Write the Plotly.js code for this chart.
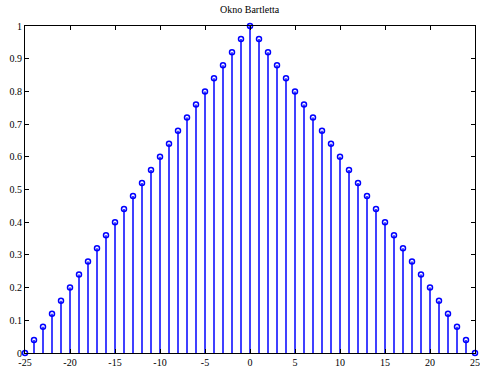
<!DOCTYPE html>
<html>
<head>
<meta charset="utf-8">
<script src="https://cdn.plot.ly/plotly-3.0.1.min.js"></script>
<style>
  html, body { margin: 0; padding: 0; background: #fff; }
  #chart { width: 480px; height: 366px; }
</style>
</head>
<body>
<div id="chart"></div>
<script>
// Sample indices of the window
var n = [-25, -24, -23, -22, -21, -20, -19, -18, -17, -16, -15, -14, -13, -12, -11, -10,
         -9, -8, -7, -6, -5, -4, -3, -2, -1, 0, 1, 2, 3, 4, 5, 6, 7, 8, 9,
         10, 11, 12, 13, 14, 15, 16, 17, 18, 19, 20, 21, 22, 23, 24, 25];

// Bartlett (triangular) window values
var w = [0.00, 0.04, 0.08, 0.12, 0.16, 0.20, 0.24, 0.28, 0.32, 0.36, 0.40, 0.44, 0.48,
         0.52, 0.56, 0.60, 0.64, 0.68, 0.72, 0.76, 0.80, 0.84, 0.88, 0.92, 0.96, 1.00,
         0.96, 0.92, 0.88, 0.84, 0.80, 0.76, 0.72, 0.68, 0.64, 0.60, 0.56, 0.52, 0.48,
         0.44, 0.40, 0.36, 0.32, 0.28, 0.24, 0.20, 0.16, 0.12, 0.08, 0.04, 0.00];

var xTicks = [-25, -20, -15, -10, -5, 0, 5, 10, 15, 20, 25];
var yTicks = [0, 0.1, 0.2, 0.3, 0.4, 0.5, 0.6, 0.7, 0.8, 0.9, 1];
var xTickText = ['-25', '-20', '-15', '-10', '-5', '0', '5', '10', '15', '20', '25'];
var yTickText = ['0', '0.1', '0.2', '0.3', '0.4', '0.5', '0.6', '0.7', '0.8', '0.9', '1'];

// Stems: vertical segments from zero to each value, separated by gaps
var stemX = [], stemY = [];
for (var i = 0; i < n.length; i++) {
  stemX.push(n[i], n[i], null);
  stemY.push(0, w[i], null);
}

var stems = {
  x: stemX, y: stemY, type: 'scatter', mode: 'lines',
  line: { color: '#0000ff', width: 1.5 },
  hoverinfo: 'skip', showlegend: false
};

var heads = {
  x: n, y: w, type: 'scatter', mode: 'markers',
  marker: { symbol: 'circle-open', size: 5, color: '#0000ff', line: { width: 1.5, color: '#0000ff' } },
  showlegend: false, cliponaxis: false
};

var axisFont = { family: 'Liberation Serif, Times New Roman, serif', size: 10, color: '#000' };

var layout = {
  width: 480, height: 366,
  margin: { l: 25, r: 5, t: 26, b: 13 },
  paper_bgcolor: '#fff', plot_bgcolor: '#fff',
  title: {
    text: 'Okno Bartletta',
    font: { family: 'Liberation Serif, Times New Roman, serif', size: 10, color: '#000' },
    x: 0.52, xanchor: 'center', y: 0.975, yanchor: 'middle'
  },
  xaxis: {
    range: [-25, 25], tickvals: xTicks, ticktext: xTickText,
    ticks: 'inside', ticklen: 4, tickwidth: 1, tickcolor: '#000',
    showline: true, linecolor: '#000', linewidth: 1, mirror: 'ticks',
    showgrid: false, zeroline: false, tickfont: axisFont
  },
  yaxis: {
    range: [0, 1], tickvals: yTicks, ticktext: yTickText,
    ticks: 'inside', ticklen: 4, tickwidth: 1, tickcolor: '#000',
    showline: true, linecolor: '#000', linewidth: 1, mirror: 'ticks',
    showgrid: false, zeroline: false, tickfont: axisFont
  }
};

Plotly.newPlot('chart', [stems, heads], layout, { displayModeBar: false, staticPlot: true });
</script>
</body>
</html>
